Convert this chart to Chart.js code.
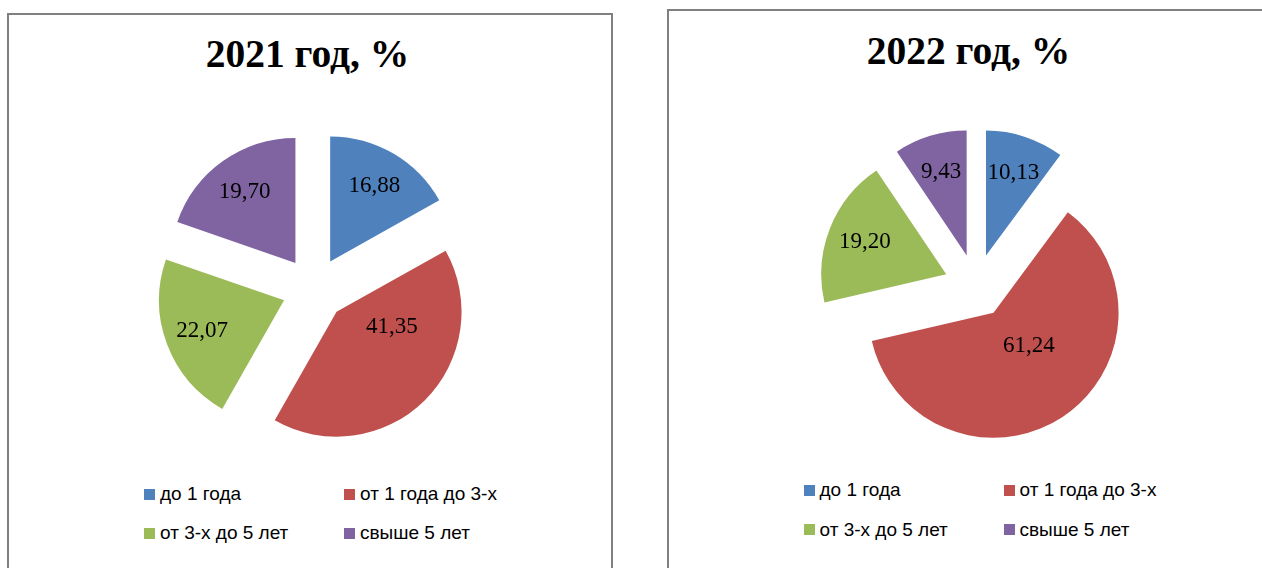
<!DOCTYPE html>
<html>
<head>
<meta charset="utf-8">
<script src="https://cdn.jsdelivr.net/npm/chart.js@4.4.1/dist/chart.umd.min.js"></script>
<style>
  html, body { margin:0; padding:0; background:#fff; width:1262px; height:568px; overflow:hidden; }
  .panel { position:absolute; border:2px solid #808080; background:#fff; box-sizing:border-box; }
  .title { position:absolute; font-family:"Liberation Serif","Times New Roman",serif; font-weight:bold;
           font-size:39.5px; line-height:39.5px; white-space:nowrap; transform:translateX(-50%); color:#000; }
  .pie { position:absolute; }
  .leg { position:absolute; display:flex; align-items:center; font-family:"Liberation Sans",Arial,sans-serif;
         font-size:19px; color:#000; white-space:nowrap; height:20px; }
  .leg i { display:inline-block; width:11px; height:11px; margin-right:5px; }
</style>
</head>
<body>
<div class="panel" style="left:7px; top:13px; width:606px; height:570px;"></div>
<div class="panel" style="left:667px; top:9px; width:610px; height:575px;"></div>

<div class="title" id="t0" style="left:307.5px; top:35px;"></div>
<div class="title" id="t1" style="left:968.5px; top:32px;"></div>

<canvas class="pie" id="c0" width="314" height="314" style="left:157px; top:132px;"></canvas>
<canvas class="pie" id="c1" width="314" height="314" style="left:819px; top:129px;"></canvas>

<div id="legends"></div>

<script>
// ---- data ----
const categories = ['до 1 года', 'от 1 года до 3-х', 'от 3-х до 5 лет', 'свыше 5 лет'];
const values2021 = [16.88, 41.35, 22.07, 19.70];
const values2022 = [10.13, 61.24, 19.20, 9.43];
const chartTitles = ['2021 год, %', '2022 год, %'];
const colors = ['#4F81BD', '#C0504D', '#9BBB59', '#8064A2'];

// ---- titles ----
document.getElementById('t0').textContent = chartTitles[0];
document.getElementById('t1').textContent = chartTitles[1];

// ---- legends (2 x 2 grid) ----
const legendLayouts = [
  { cols: [144, 344], rows: [494, 533] },
  { cols: [803.5, 1003.5], rows: [490, 529.5] }
];
const legHost = document.getElementById('legends');
legendLayouts.forEach(L => {
  categories.forEach((name, i) => {
    const d = document.createElement('div');
    d.className = 'leg';
    d.style.left = L.cols[i % 2] + 'px';
    d.style.top = (L.rows[Math.floor(i / 2)] - 10) + 'px';
    const sq = document.createElement('i');
    sq.style.background = colors[i];
    d.appendChild(sq);
    d.appendChild(document.createTextNode(name));
    legHost.appendChild(d);
  });
});

// ---- plugin: exploded slices + data labels ----
const explodePlugin = {
  id: 'explode',
  beforeDatasetDraw(chart, args, opts) {
    const ctx = chart.ctx;
    const meta = args.meta;
    const data = chart.data.datasets[args.index].data;
    const dist = opts.distance || 0;
    meta.data.forEach(arc => {
      const mid = (arc.startAngle + arc.endAngle) / 2;
      ctx.save();
      ctx.translate(Math.cos(mid) * dist, Math.sin(mid) * dist);
      arc.draw(ctx, chart.chartArea);
      ctx.restore();
    });
    ctx.save();
    ctx.font = opts.font;
    ctx.fillStyle = '#000';
    ctx.textAlign = 'center';
    ctx.textBaseline = 'middle';
    meta.data.forEach((arc, i) => {
      const v = data[i];
      const sweep = arc.endAngle - arc.startAngle;
      let aFrac = 0.5, rFrac = 0.70;
      if (v >= 50) { aFrac = 0.44; rFrac = 0.39; }
      else if (v >= 35) { aFrac = 0.30; rFrac = 0.46; }
      const half = arc.startAngle + sweep / 2;
      const ang = arc.startAngle + sweep * aFrac;
      const ox = arc.x + Math.cos(half) * dist;
      const oy = arc.y + Math.sin(half) * dist;
      const r = arc.outerRadius * rFrac;
      ctx.fillText(v.toFixed(2).replace('.', ','), ox + Math.cos(ang) * r, oy + Math.sin(ang) * r);
    });
    ctx.restore();
    return false;
  }
};

function makePie(id, values) {
  new Chart(document.getElementById(id), {
    type: 'pie',
    data: {
      labels: categories,
      datasets: [{
        data: values,
        backgroundColor: colors,
        borderWidth: 0,
        hoverOffset: 0
      }]
    },
    options: {
      responsive: false,
      animation: false,
      devicePixelRatio: 1,
      layout: { padding: 32 },
      events: [],
      plugins: {
        legend: { display: false },
        title: { display: false },
        tooltip: { enabled: false },
        explode: { distance: 32, font: '23px "Liberation Serif", "Times New Roman", serif' }
      }
    },
    plugins: [explodePlugin]
  });
}

makePie('c0', values2021);
makePie('c1', values2022);
</script>
</body>
</html>
